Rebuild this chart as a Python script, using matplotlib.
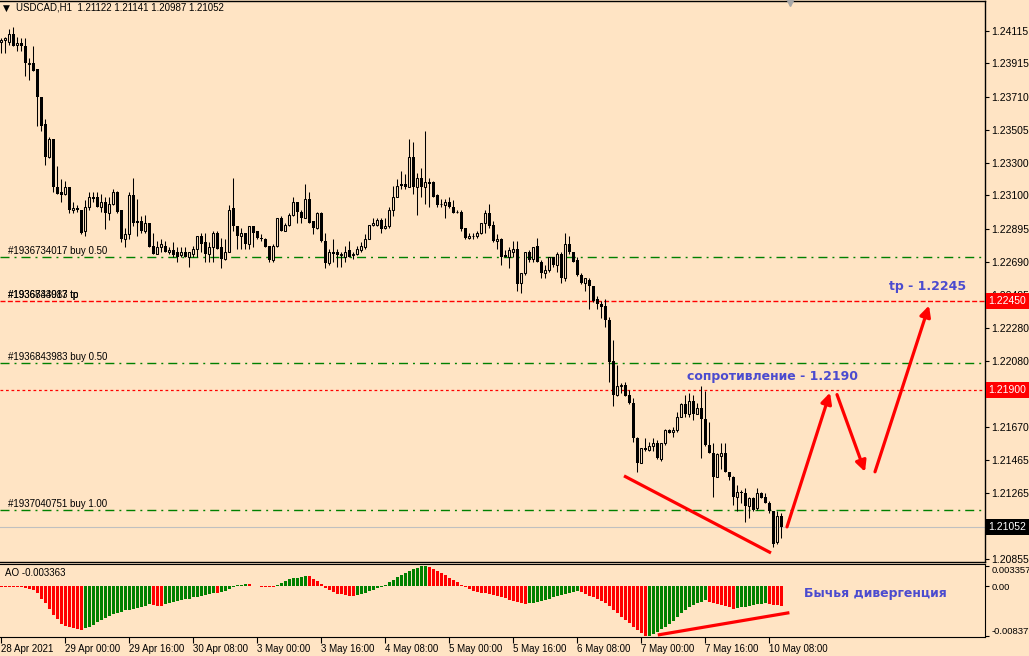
import numpy as np
import matplotlib.pyplot as plt

plt.rcParams['font.family'] = ['Liberation Sans', 'DejaVu Sans']

BG = '#FFE4C4'

# USDCAD H1 candles, prices in pips above 1.2000
open_pips = [405, 406, 405, 410, 403, 404, 402, 391, 392, 388,
             371, 354, 334, 345, 315, 312, 311, 315, 301, 302,
             301, 288, 303, 309, 309, 303, 306, 299, 305, 312,
             301, 283, 286, 310, 294, 294, 288, 293, 279, 274,
             278, 279, 275, 276, 275, 273, 275, 272, 274, 277,
             285, 281, 274, 278, 287, 278, 271, 275, 302, 291,
             285, 287, 280, 291, 288, 284, 283, 279, 270, 279,
             296, 288, 292, 298, 306, 300, 296, 308, 294, 290,
             299, 282, 268, 275, 275, 273, 272, 276, 273, 274,
             276, 278, 283, 292, 292, 295, 290, 291, 301, 309,
             317, 317, 315, 334, 315, 321, 315, 318, 318, 310,
             305, 304, 306, 303, 300, 300, 290, 284, 285, 285,
             287, 293, 299, 292, 282, 283, 273, 272, 275, 277,
             256, 262, 275, 271, 279, 269, 262, 264, 272, 267,
             274, 259, 280, 275, 270, 261, 256, 258, 254, 246,
             243, 242, 233, 208, 187, 192, 193, 187, 182, 160,
             145, 154, 153, 155, 157, 147, 157, 165, 164, 165,
             173, 181, 175, 183, 175, 179, 172, 156, 151, 136,
             149, 151, 139, 136, 124, 127, 126, 118, 123, 117,
             126, 124, 120, 115, 96, 112.2]
high_pips = [407, 408, 413, 414, 408, 407, 407, 395, 402, 388,
             371, 357, 346, 345, 328, 320, 319, 315, 306, 304,
             301, 307, 312, 312, 312, 311, 309, 309, 314, 313,
             301, 290, 312, 321, 308, 297, 298, 293, 287, 282,
             283, 282, 278, 281, 278, 278, 278, 275, 279, 285,
             287, 287, 281, 288, 288, 284, 283, 304, 321, 291,
             290, 287, 291, 291, 288, 286, 284, 279, 280, 296,
             297, 293, 299, 309, 306, 301, 317, 312, 294, 300,
             300, 287, 277, 283, 277, 275, 279, 282, 275, 279,
             281, 286, 292, 296, 296, 296, 296, 303, 316, 320,
             325, 323, 345, 343, 324, 327, 350, 321, 319, 311,
             308, 308, 309, 307, 301, 301, 290, 287, 287, 288,
             293, 301, 305, 294, 286, 284, 276, 278, 282, 282,
             262, 275, 276, 278, 284, 270, 267, 272, 272, 275,
             275, 287, 285, 275, 272, 262, 259, 259, 254, 248,
             245, 246, 235, 221, 205, 194, 195, 190, 185, 161,
             154, 160, 158, 160, 159, 157, 166, 166, 167, 176,
             182, 187, 188, 187, 182, 192, 189, 170, 157, 151,
             157, 157, 139, 137, 131, 128, 129, 124, 124, 129,
             127, 126, 121, 115, 115, 114.1]
low_pips = [398, 398, 403, 402, 399, 399, 384, 381, 387, 353,
            350, 329, 333, 312, 311, 306, 310, 299, 299, 300,
            286, 285, 301, 306, 303, 300, 289, 295, 304, 299,
            281, 278, 283, 291, 285, 287, 287, 278, 274, 274,
            275, 275, 274, 272, 269, 272, 272, 266, 272, 272,
            275, 269, 269, 269, 277, 265, 270, 275, 288, 277,
            277, 277, 277, 278, 283, 282, 278, 269, 269, 278,
            288, 288, 291, 297, 293, 293, 296, 293, 286, 289,
            281, 265, 267, 269, 266, 266, 269, 272, 271, 273,
            275, 277, 283, 291, 291, 287, 289, 290, 297, 309,
            314, 314, 315, 311, 298, 309, 305, 303, 309, 303,
            303, 296, 302, 299, 299, 288, 283, 283, 283, 284,
            286, 287, 290, 281, 277, 267, 272, 265, 272, 251,
            250, 261, 269, 269, 269, 259, 259, 263, 266, 263,
            256, 257, 274, 269, 260, 255, 251, 240, 244, 240,
            234, 229, 195, 180, 186, 188, 186, 181, 158, 139,
            145, 152, 152, 152, 147, 146, 156, 163, 161, 164,
            173, 173, 173, 171, 175, 148, 155, 151, 124, 136,
            141, 139, 134, 119, 115, 120, 108, 111, 115, 116,
            123, 120, 114, 93, 95, 98.7]
close_pips = [406, 407, 410, 402, 404, 402, 392, 392, 387, 371,
              353, 334, 345, 315, 311, 310, 315, 301, 302, 301,
              287, 303, 309, 308, 303, 306, 299, 305, 312, 300,
              283, 286, 310, 293, 293, 288, 293, 278, 274, 278,
              280, 275, 276, 273, 272, 275, 272, 275, 277, 285,
              280, 274, 278, 287, 277, 271, 275, 301, 291, 285,
              287, 280, 291, 287, 284, 283, 278, 270, 279, 296,
              288, 292, 298, 306, 300, 296, 308, 293, 290, 299,
              282, 268, 275, 274, 273, 274, 275, 272, 274, 277,
              279, 283, 292, 293, 295, 289, 291, 301, 309, 316,
              316, 315, 334, 315, 321, 315, 318, 317, 309, 304,
              305, 306, 303, 299, 300, 289, 284, 285, 285, 287,
              293, 299, 291, 282, 283, 272, 272, 276, 277, 255,
              262, 275, 270, 278, 269, 262, 264, 272, 267, 274,
              259, 280, 275, 269, 261, 256, 259, 254, 245, 243,
              241, 233, 207, 187, 192, 193, 186, 182, 160, 145,
              154, 153, 155, 157, 148, 157, 165, 163, 165, 173,
              181, 175, 183, 175, 179, 172, 156, 151, 136, 150,
              151, 139, 136, 124, 127, 126, 118, 123, 116, 126,
              123, 120, 115, 95, 112, 105.2]

# Awesome Oscillator values
ao_values = [-0.00010, -0.00012, -0.00015, -0.00018, -0.00020, -0.00025, -0.00030, -0.00050, -0.00070, -0.00120,
             -0.00220, -0.00290, -0.00390, -0.00490, -0.00560, -0.00630, -0.00670, -0.00690, -0.00710, -0.00720,
             -0.00730, -0.00710, -0.00680, -0.00650, -0.00610, -0.00570, -0.00540, -0.00500, -0.00470, -0.00460,
             -0.00440, -0.00410, -0.00400, -0.00390, -0.00370, -0.00350, -0.00330, -0.00310, -0.00320, -0.00330,
             -0.00340, -0.00300, -0.00280, -0.00260, -0.00250, -0.00230, -0.00220, -0.00210, -0.00190, -0.00180,
             -0.00160, -0.00150, -0.00130, -0.00110, -0.00120, -0.00100, -0.00080, -0.00050, -0.00020, 0.00010,
             0.00020, 0.00040, 0.00030, 0.00000, -0.00005, -0.00010, -0.00012, -0.00015, -0.00020, 0.00020,
             0.00050, 0.00090, 0.00120, 0.00130, 0.00140, 0.00150, 0.00170, 0.00160, 0.00120, 0.00080,
             0.00040, -0.00030, -0.00070, -0.00100, -0.00130, -0.00140, -0.00150, -0.00160, -0.00165, -0.00150,
             -0.00140, -0.00120, -0.00090, -0.00060, -0.00040, -0.00020, 0.00020, 0.00060, 0.00100, 0.00150,
             0.00190, 0.00220, 0.00260, 0.00290, 0.00310, 0.00330, 0.003357, 0.00320, 0.00290, 0.00260,
             0.00220, 0.00180, 0.00140, 0.00100, 0.00060, 0.00020, -0.00020, -0.00050, -0.00080, -0.00100,
             -0.00110, -0.00120, -0.00130, -0.00150, -0.00170, -0.00190, -0.00200, -0.00230, -0.00250, -0.00270,
             -0.00290, -0.00300, -0.00290, -0.00280, -0.00260, -0.00250, -0.00230, -0.00210, -0.00190, -0.00170,
             -0.00150, -0.00130, -0.00110, -0.00100, -0.00090, -0.00100, -0.00130, -0.00160, -0.00190, -0.00220,
             -0.00250, -0.00290, -0.00340, -0.00400, -0.00460, -0.00520, -0.00570, -0.00620, -0.00680, -0.00740,
             -0.00790, -0.008377, -0.00830, -0.00810, -0.00770, -0.00720, -0.00680, -0.00630, -0.00580, -0.00520,
             -0.00450, -0.00400, -0.00350, -0.00320, -0.00290, -0.00260, -0.00240, -0.00260, -0.00280, -0.00300,
             -0.00320, -0.00340, -0.00360, -0.00380, -0.00370, -0.00360, -0.00350, -0.00340, -0.00320, -0.00310,
             -0.00300, -0.00290, -0.00300, -0.00315, -0.00325, -0.003363]

date_labels = ['28 Apr 2021', '29 Apr 00:00', '29 Apr 16:00', '30 Apr 08:00', '3 May 00:00',
               '3 May 16:00', '4 May 08:00', '5 May 00:00', '5 May 16:00', '6 May 08:00',
               '7 May 00:00', '7 May 16:00', '10 May 08:00']
price_ticks = [1.24115, 1.23915, 1.23710, 1.23505, 1.23300, 1.23100, 1.22895, 1.22690, 1.22485,
               1.22280, 1.22080, 1.21875, 1.21670, 1.21465, 1.21265, 1.21060, 1.20855]
hidden_ticks = [1.21060]  # covered by the bid tag
ao_ticks = [0.003357, 0.0, -0.008377]
ao_tick_labels = ['0.003357', '0.00', '-0.008377']

# order levels
buy_levels = [1.22717, 1.22067, 1.21158]
buy_labels = ['#1936734017 buy 0.50', '#1936843983 buy 0.50', '#1937040751 buy 1.00']
tp_level = 1.22450
tp_labels = ['#1936734017 tp', '#1936843983 tp']
resistance = 1.21900
bid = 1.21052

# hand-drawn forecast (bar index, price)
div_x, div_y = [155.75, 192.5], [1.21368, 1.20892]
arrows = [((196.5, 1.21053), (207.25, 1.21882)),
          ((209.0, 1.21870), (216.0, 1.21393)),
          ((218.5, 1.21393), (232.0, 1.22420))]
ao_div_x, ao_div_y = [164.2, 197.1], [-0.00821, -0.00447]

o = 1.2 + np.array(open_pips) / 1e4
h = 1.2 + np.array(high_pips) / 1e4
l = 1.2 + np.array(low_pips) / 1e4
c = 1.2 + np.array(close_pips) / 1e4
ao = np.array(ao_values)
x = np.arange(len(c))

fig = plt.figure(figsize=(10.29, 6.56), dpi=100, facecolor=BG)
ax = fig.add_axes([0, 94 / 656, 985 / 1029, 561 / 656], facecolor=BG)
ax2 = fig.add_axes([0, 19 / 656, 985 / 1029, 73 / 656], facecolor=BG)

xlim = (-0.25, 246.0)
FS = 7

# candles
up = c >= o
ax.vlines(x, l, h, color='black', lw=0.75, zorder=3)
ax.bar(x[~up], (o - c)[~up], bottom=c[~up], width=0.75, color='black', lw=0, zorder=4)
ax.bar(x[up], (c - o)[up], bottom=o[up], width=0.5, facecolor=BG, edgecolor='black',
       lw=0.75, zorder=4)

# order lines
for lev, lab in zip(buy_levels, buy_labels):
    ax.axhline(lev, color='#008000', lw=1, dashes=(6.5, 3.6, 1.4, 3.6), zorder=2)
    ax.text(1.75, lev + 0.00006, lab, fontsize=FS, va='bottom', ha='left')
ax.axhline(tp_level, color='#FF0000', lw=1, dashes=(3.6, 1.7), zorder=2)
for lab in tp_labels:
    ax.text(1.75, tp_level + 0.00006, lab, fontsize=FS, va='bottom', ha='left')
ax.axhline(resistance, color='#FF0000', lw=0.9, dashes=(2.2, 2.2), zorder=2)
ax.axhline(bid, color='#C0C0C0', lw=0.8, zorder=1)

# drawings
ax.plot(div_x, div_y, color='red', lw=2.3, solid_capstyle='butt', zorder=5)
for start, end in arrows:
    ax.annotate('', xy=end, xytext=start,
                arrowprops=dict(arrowstyle='-|>', color='red', lw=2.3,
                                mutation_scale=16, shrinkA=0, shrinkB=0), zorder=5)
ax.text(171.5, 1.21981, 'сопротивление - 1.2190', color='#4B4BCF', fontsize=9,
        fontweight='bold', family=['DejaVu Sans'], va='center', ha='left')
ax.text(222, 1.22538, 'tp - 1.2245', color='#4B4BCF', fontsize=9,
        fontweight='bold', family=['DejaVu Sans'], va='center', ha='left')

ax.set_xlim(xlim)
ax.set_ylim(1.20836, 1.24301)
ax.set_xticks([])
ax.yaxis.tick_right()
ax.set_yticks(price_ticks)
ax.set_yticklabels(['' if v in hidden_ticks else f'{v:.5f}' for v in price_ticks])
ax.tick_params(axis='y', length=3, width=0.8, pad=1.5, labelsize=7.5, colors='black')
ax.spines['left'].set_visible(False)
for s in ['top', 'right', 'bottom']:
    ax.spines[s].set_linewidth(1.0)


def price_tag(y, txt, fc):
    ax.annotate(txt, xy=(1.0, y), xycoords=('axes fraction', 'data'), xytext=(2.5, 0),
                textcoords='offset points', ha='left', va='center', color='white',
                fontsize=7.5, annotation_clip=False, zorder=10,
                bbox=dict(boxstyle='square,pad=0.28', fc=fc, ec='none'))


price_tag(tp_level, '1.22450', '#FF0000')
price_tag(resistance, '1.21900', '#FF0000')
price_tag(bid, '1.21052', '#000000')

# header
fig.text(3 / 1029, 1 - 8 / 656, '▼', fontsize=6.5, va='center', ha='left', family=['DejaVu Sans'])
fig.text(16 / 1029, 1 - 8 / 656, 'USDCAD,H1  1.21122 1.21141 1.20987 1.21052',
         fontsize=FS, va='center', ha='left')
ax.plot([0.802], [1.0], marker='v', ms=7, color='#A8A8A8', transform=ax.transAxes,
        clip_on=False, zorder=10)

# Awesome Oscillator
colors = ['#FF0000'] + ['#008000' if ao[i] > ao[i - 1] else '#FF0000' for i in range(1, len(ao))]
ax2.bar(x, ao, width=0.75, color=colors, lw=0)
ax2.plot(ao_div_x, ao_div_y, color='red', lw=2.3, solid_capstyle='butt', clip_on=False)
ax2.text(200.75, -0.00134, 'Бычья дивергенция', color='#4B4BCF', fontsize=9,
         fontweight='bold', family=['DejaVu Sans'], va='center', ha='left')
ax2.text(0.005, 0.88, 'AO -0.003363', transform=ax2.transAxes, fontsize=FS,
         va='center', ha='left')
ax2.set_xlim(xlim)
ax2.set_ylim(-0.00855, 0.00369)
ax2.yaxis.tick_right()
ax2.set_yticks(ao_ticks)
ax2.set_yticklabels(ao_tick_labels)
ax2.tick_params(axis='y', length=3, width=0.8, pad=1.5, labelsize=6.8)
tl = ax2.get_yticklabels()
tl[0].set_va('top')
tl[2].set_va('bottom')
ax2.set_xticks(np.arange(0, len(date_labels) * 16, 16))
ax2.set_xticklabels(date_labels)
for lbl in ax2.get_xticklabels():
    lbl.set_ha('left')
ax2.tick_params(axis='x', length=4, width=0.8, pad=1, labelsize=FS)
ax2.spines['left'].set_visible(False)

fig.savefig('out.png', dpi=100, facecolor=BG)
